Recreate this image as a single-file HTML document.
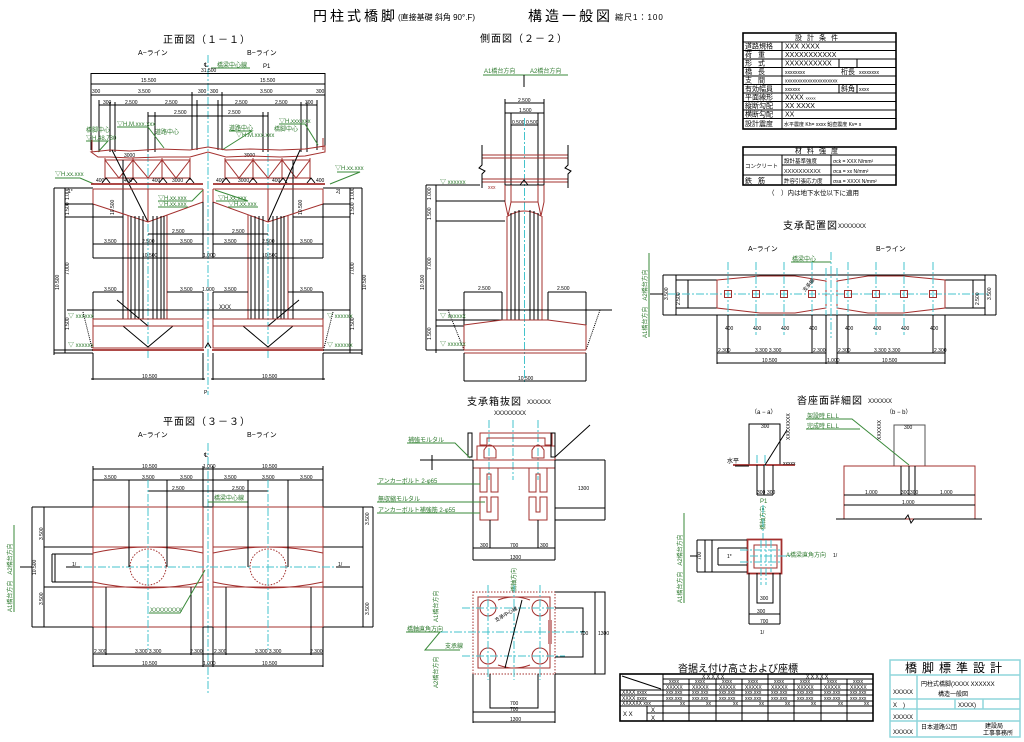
<!DOCTYPE html>
<html><head><meta charset="utf-8">
<style>
html,body{margin:0;padding:0;background:#fff;}
svg{display:block}
text{font-family:"Liberation Sans","Noto Sans CJK JP",sans-serif;}
.k{stroke:#000;stroke-width:1;fill:none}
.k2{stroke:#000;stroke-width:1.6;fill:none}
.gy{stroke:#555;stroke-width:1;fill:none}
.r{stroke:#a3302e;stroke-width:1;fill:none}
.r2{stroke:#a3302e;stroke-width:1.8;fill:none}
.rd{stroke:#a3302e;stroke-width:1;fill:none;stroke-dasharray:1.5 1.5}
.c{stroke:#45c3cc;stroke-width:1;fill:none;stroke-dasharray:8 2 2 2}
.gl{stroke:#3a8a3a;stroke-width:1;fill:none}
.cy{stroke:#8fd6dc;stroke-width:1.5;fill:none}
.d{font-size:5px;fill:#000}
.g{font-size:6px;fill:#2f7a2f}
.t{font-size:7px;fill:#000}
.vt{font-size:10px;fill:#000;letter-spacing:1px}
</style></head><body>
<svg width="1024" height="742" viewBox="0 0 1024 742" xmlns="http://www.w3.org/2000/svg">
<rect x="0" y="0" width="1024" height="742" fill="#fff"/>

<!-- ===== MAIN TITLE ===== -->
<text x="313" y="21" font-size="14" letter-spacing="3">円柱式橋脚</text>
<text x="398" y="20" font-size="8">(直接基礎 斜角 90°.F)</text>
<text x="528" y="21" font-size="14" letter-spacing="3">構造一般図</text>
<text x="615" y="20" font-size="8" letter-spacing="1">縮尺1：100</text>

<!-- ===== FRONT VIEW ===== -->
<text x="163" y="43" class="vt">正面図（１－１）</text>
<text x="138" y="55" font-size="7">A−ライン</text>
<text x="247" y="55" font-size="7">B−ライン</text>
<path class="c" d="M208 55V395 M148 112V358 M268 112V358"/>
<text x="204" y="67" font-size="6">℄</text>
<text x="217" y="67" class="g">橋梁中心線</text>
<path class="gl" d="M211 68H250"/>
<text x="263" y="68" font-size="6">P1</text>
<text x="201" y="72" class="d">31.500</text>
<!-- top dims -->
<path class="k" d="M91 73.5H325 M91 84H325 M91 95H325 M99 105H317 M148 116H268"/>
<path class="k" d="M91 73V150 M325 73V148 M99 100V152 M317 100V150 M110 102V152 M115 102V152 M148 112V152 M155 112V152 M192 92V150 M197 100V150 M218 100V150 M222 92V150 M263 112V152 M268 112V152 M301 102V152 M307 102V152"/>
<text x="141" y="82" class="d">15.500</text><text x="260" y="82" class="d">15.500</text>
<text x="92" y="93" class="d">300</text><text x="138" y="93" class="d">3.500</text><text x="198" y="93" class="d">300</text><text x="210" y="93" class="d">300</text><text x="260" y="93" class="d">3.500</text><text x="316" y="93" class="d">300</text>
<text x="103" y="104" class="d">300</text><text x="125" y="104" class="d">2.500</text><text x="165" y="104" class="d">2.500</text><text x="235" y="104" class="d">2.500</text><text x="275" y="104" class="d">2.500</text><text x="305" y="104" class="d">300</text>
<text x="174" y="114" class="d">2.500</text><text x="228" y="114" class="d">2.500</text>
<!-- green labels front -->
<text x="117" y="126" class="g">▽H.M.xxx.xxx</text>
<text x="155" y="134" class="g">道路中心</text>
<text x="86" y="132" class="g">橋脚中心</text>
<text x="86" y="140" class="g">▽H.48.730</text>
<text x="229" y="130" class="g">道路中心</text>
<text x="236" y="137" class="g">▽H.M.xxx.xxx</text>
<text x="274" y="131" class="g">橋脚中心</text>
<text x="279" y="123" class="g">▽H.xxx.xxx</text>
<path class="gl" d="M86 141H108 L98 152 M117 127H148 L164 148 M229 131H252 L222 150 M279 124H305 L318 145 M55 178H80 L94 184 M337 172H360 L330 184"/>
<text x="55" y="176" class="g">▽H.xx.xxx</text>
<text x="335" y="170" class="g">▽H.xx.xxx</text>
<text x="124" y="157" class="d">3000</text><text x="244" y="157" class="d">3000</text>
<!-- bent cap -->
<path class="r" d="M92 140V152 M323 138V150"/>
<path class="r" d="M91 152 L110 150 L130 151 L160 149 L190 150 L208 147 L226 150 L250 149 L280 150 L305 149 L325 146 L325 152 L305 156 L280 157 L250 156 L226 157 L208 152 L190 157 L160 157 L130 158 L110 157 L98 157 Z"/>
<!-- trusses -->
<g class="r">
<path d="M105 158V180 M133 158V180 M162 158V180 M190 158V180 M105 160H190 M105 178H190 M105 160L119 178L133 160L148 178L162 160L176 178L190 160"/>
<path d="M225 158V180 M253 158V180 M282 158V180 M310 158V180 M225 160H310 M225 178H310 M225 160L239 178L253 160L268 178L282 160L296 178L310 160"/>
</g>
<path class="k" d="M112 150L148 222 M300 150L268 222 M123 160V319 M293 160V319"/>
<!-- bearings -->
<path class="k" d="M102 183L106 178L110 183 M129 183L133 178L137 183 M159 183L163 178L167 183 M186 183L190 178L194 183 M222 183L226 178L230 183 M249 183L253 178L257 183 M279 183L283 178L287 183 M307 183L311 178L315 183"/>
<path class="r2" d="M91 184H203 M213 184H325"/>
<text x="96" y="182" class="d">400</text><text x="124" y="182" class="d">400</text><text x="152" y="182" class="d">400</text><text x="172" y="182" class="d">3000</text>
<text x="216" y="182" class="d">400</text><text x="238" y="182" class="d">3000</text><text x="272" y="182" class="d">400</text><text x="316" y="182" class="d">400</text>
<!-- coping -->
<path class="r" d="M93 189H203 M93 189V204 L148 222 L203 202 V189 M148 189V222"/>
<path class="r" d="M213 189H323 M213 189V202 L268 222 L323 204 V189 M268 189V222"/>
<text x="158" y="200" class="g">▽H.xx.xxx</text><text x="158" y="206" class="g">▽H.xx.xxx</text>
<text x="218" y="200" class="g">▽H.xx.xxx</text><text x="228" y="206" class="g">▽H.xx.xxx</text>
<path class="gl" d="M158 201H192 L203 190 M158 207H188 M216 201H248 L215 190 M228 207H258"/>
<!-- columns -->
<path class="r" d="M128 215V319 M167 215V319 M248 215V319 M288 215V319"/>
<path class="k" d="M131 216V319 M135 216V319 M139 216V319 M143 216V319 M153 216V319 M157 216V319 M161 216V319 M164 216V319"/>
<path class="k" d="M251 216V319 M255 216V319 M259 216V319 M263 216V319 M273 216V319 M277 216V319 M281 216V319 M284 216V319"/>
<!-- mid dims -->
<path class="k" d="M148 234H268 M93 244H203 M213 244H323 M93 258H323 M93 204V258 M203 202V258 M213 202V258 M323 204V258"/>
<text x="172" y="233" class="d">2.500</text><text x="232" y="233" class="d">2.500</text>
<text x="104" y="243" class="d">3.500</text><text x="142" y="243" class="d">2.500</text><text x="180" y="243" class="d">3.500</text>
<text x="224" y="243" class="d">3.500</text><text x="262" y="243" class="d">2.500</text><text x="300" y="243" class="d">3.500</text>
<text x="142" y="257" class="d">10.500</text><text x="203" y="257" class="d">1.000</text><text x="262" y="257" class="d">10.500</text>
<!-- above footing boxes -->
<path class="k" d="M93 292H123 M167 292H203 M213 292H248 M288 292H323 M93 292V319 M203 292V319 M213 292V319 M323 292V319"/>
<text x="104" y="291" class="d">3.500</text><text x="180" y="291" class="d">3.500</text><text x="202" y="291" class="d">1.000</text><text x="224" y="291" class="d">3.500</text><text x="300" y="291" class="d">3.500</text>
<path class="k" d="M117 300L148 326 M299 300L268 326 M123 326L148 347 M173 326L148 347 M243 326L268 347 M293 326L268 347"/>
<!-- ground line -->
<path class="k" d="M67 310H350"/>
<text x="219" y="309" font-size="6">XXX</text>
<!-- footing -->
<rect class="r" x="93" y="319" width="110" height="29"/>
<rect class="r" x="213" y="319" width="110" height="29"/>
<path class="r" d="M93 326H203 M213 326H323"/>
<path class="r2" d="M92 350H204 M212 350H324"/>
<path class="k" d="M54 350H93 M323 350H362 M54 353H93 M323 353H362"/>
<path class="k" d="M205 348L208 343L211 348"/>
<!-- side boxes -->
<path class="k" d="M54 188V355 M65 188V353 M54 188H93 M65 204H93 M65 217H123 M350 188V353 M362 188V355 M323 188H362 M323 204H350 M293 217H350"/>
<text x="68" y="193" class="d">1*</text><text x="336" y="193" class="d">2]</text>
<text transform="translate(59,290) rotate(-90)" class="d">10.500</text>
<text transform="translate(69,275) rotate(-90)" class="d">7.000</text>
<text transform="translate(69,200) rotate(-90)" class="d">1.000</text>
<text transform="translate(69,215) rotate(-90)" class="d">1.500</text>
<text transform="translate(69,330) rotate(-90)" class="d">1.500</text>
<text transform="translate(354,275) rotate(-90)" class="d">7.000</text>
<text transform="translate(366,290) rotate(-90)" class="d">10.500</text>
<text transform="translate(354,200) rotate(-90)" class="d">1.000</text>
<text transform="translate(354,215) rotate(-90)" class="d">1.500</text>
<text transform="translate(354,330) rotate(-90)" class="d">1.500</text>
<text transform="translate(114,215) rotate(-90)" class="d">10.500</text>
<text transform="translate(302,215) rotate(-90)" class="d">10.500</text>
<text x="68" y="318" class="g">▽ xxxxxx</text><text x="68" y="347" class="g">▽ xxxxxx</text>
<text x="327" y="318" class="g">▽ xxxxxx</text><text x="327" y="347" class="g">▽ xxxxxx</text>
<path class="k" stroke-dasharray="1 1" d="M83 312L92 348 M333 312L324 348"/>
<!-- bottom dims -->
<path class="k" d="M93 353V380 M203 353V380 M213 353V380 M323 353V380 M91 379H205 M211 379H325"/>
<text x="142" y="378" class="d">10.500</text><text x="262" y="378" class="d">10.500</text>
<text x="204" y="394" font-size="5">P</text>

<!-- ===== SIDE VIEW ===== -->
<text x="480" y="42" class="vt">側面図（２－２）</text>
<text x="484" y="73" class="g">A1橋台方向</text><text x="530" y="73" class="g">A2橋台方向</text>
<path class="gl" d="M483 75H568"/>
<path class="k" d="M524 75V87"/>
<path class="k" d="M505 103H544 M505 113H544 M511 125H538 M505 99V185 M544 99V185 M511 113V185 M538 113V185"/>
<text x="518" y="102" class="d">2.500</text><text x="519" y="112" class="d">1.500</text><text x="512" y="124" class="d">0.500</text><text x="526" y="124" class="d">0.500</text>
<path class="c" d="M524.5 118V382"/>
<path class="r" d="M482 155H568 M482 158H568 M482 179H568 M482 182H568"/>
<path class="k" d="M482 145V165 L479 168 L485 171 L482 174 V188 M568 145V165 L565 168 L571 171 L568 174 V188"/>
<path class="k" d="M520 185L524 180L528 185"/>
<text x="488" y="189" font-size="5" fill="#a3302e">xxx</text>
<text x="440" y="184" class="g">▽ xxxxxx</text>
<path class="k" d="M426 185H480 M505 185H544"/>
<path class="r" d="M505 185V202 L508 216 Q524.5 206 541 216 L544 202 V185 M511 185V202 H538 V185 M511 202L508 216 M538 202L541 216"/>
<path class="r" d="M507 216V320 M542 216V320"/>
<path class="k" d="M511 213V320 M515 211V320 M519 210V320 M530 210V320 M534 211V320 M538 213V320"/>
<path class="k" d="M426 185V350 M436 185V353 M436 201H505 M436 221H505 M436 320H505 M436 326H464 M426 350H464"/>
<text transform="translate(431,200) rotate(-90)" class="d">1.000</text>
<text transform="translate(431,220) rotate(-90)" class="d">1.500</text>
<text transform="translate(431,270) rotate(-90)" class="d">7.000</text>
<text transform="translate(424,290) rotate(-90)" class="d">10.500</text>
<text transform="translate(431,340) rotate(-90)" class="d">1.500</text>
<!-- side footing -->
<path class="k" d="M464 292H502 M548 292H586 M464 292V325 M586 292V325 M502 292V320 M548 292V320"/>
<text x="478" y="290" class="d">2.500</text><text x="557" y="290" class="d">2.500</text>
<path class="k" d="M438 310H612"/>
<path class="k" stroke-dasharray="1 1" d="M448 310L464 350 M600 310L586 350"/>
<path class="r" d="M464 325L502 320H548L586 325 M464 325V350 M586 325V350 M464 350H586 M464 353H586"/>
<text x="440" y="318" class="g">▽ xxxxxx</text><text x="440" y="346" class="g">▽ xxxxxx</text>
<path class="k" d="M464 353V381 M586 353V381 M464 381H586"/>
<text x="518" y="380" class="d">10.500</text>

<!-- ===== DESIGN CONDITIONS TABLE ===== -->
<g>
<rect class="k2" x="743" y="33" width="153" height="96"/>
<path class="k" d="M743 42H896 M743 50.5H896 M743 59H896 M743 67.5H896 M743 76H896 M743 84.5H896 M743 93H896 M743 101.5H896 M743 110H896 M743 118.5H896 M782 42V129 M839 59V67.5 M857 59V67.5 M839 84.5V93 M857 84.5V93"/>
<text x="795" y="40" class="t" letter-spacing="5">設計条件</text>
<g class="t" font-size="6.5">
<text x="745" y="48.5">道路規格</text><text x="785" y="48.5">XXX XXXX</text>
<text x="745" y="57" letter-spacing="6">荷重</text><text x="785" y="57">XXXXXXXXXXX</text>
<text x="745" y="65.5" letter-spacing="6">形式</text><text x="785" y="65.5">XXXXXXXXXX</text>
<text x="745" y="74" letter-spacing="6">橋長</text><text x="785" y="74" font-size="5">xxxxxxxx</text><text x="841" y="74">桁長</text><text x="859" y="74" font-size="5">xxxxxxxx</text>
<text x="745" y="82.5" letter-spacing="6">支間</text><text x="785" y="82.5" font-size="5">xxxxxxxxxxxxxxxxxxxxx</text>
<text x="745" y="91">有効幅員</text><text x="785" y="91" font-size="5">xxxxxx</text><text x="841" y="91">斜角</text><text x="859" y="91" font-size="5">xxxx</text>
<text x="745" y="99.5">平面線形</text><text x="785" y="99.5">XXXX <tspan font-size="4">xxxxx</tspan></text>
<text x="745" y="108">縦断勾配</text><text x="785" y="108">XX XXXX</text>
<text x="745" y="116.5">横断勾配</text><text x="785" y="116.5">XX</text>
<text x="745" y="126">設計震度</text><text x="784" y="126" font-size="5">水平震度 Kh= xxxx  鉛直震度 Kv= x</text>
</g>
</g>
<!-- ===== MATERIAL TABLE ===== -->
<g>
<rect class="k2" x="743" y="147" width="153" height="38"/>
<path class="k" d="M743 155H896 M782 165H896 M743 175H896 M782 155V185 M831 155V185"/>
<text x="795" y="153" class="t" letter-spacing="5">材料強度</text>
<g class="t" font-size="6">
<text x="745" y="168" font-size="5.5">コンクリート</text>
<text x="784" y="163" font-size="5.5">設計基準強度</text><text x="833" y="163" font-size="5">σck = XXX  N/mm²</text>
<text x="784" y="173" font-size="5.5">XXXXXXXXXX</text><text x="833" y="173" font-size="5">σca =  xx  N/mm²</text>
<text x="745" y="183" letter-spacing="6">鉄筋</text>
<text x="784" y="183" font-size="5.5">許容引張応力度</text><text x="833" y="183" font-size="5">σsa = XXXX  N/mm²</text>
</g>
<text x="768" y="195" font-size="6.5">（　）内は地下水位以下に適用</text>
</g>

<!-- ===== BEARING LAYOUT ===== -->
<text x="783" y="229" class="vt">支承配置図</text><text x="838" y="228" font-size="6">XXXXXXX</text>
<text x="748" y="251" font-size="7">A−ライン</text><text x="876" y="251" font-size="7">B−ライン</text>
<text x="792" y="261" class="g">橋梁中心</text><path class="gl" d="M791 262H831"/>
<path class="k" d="M663 275H996 M663 315H996 M663 275V315 M996 275V315 M676 280H717 M676 308H717 M945 280H985 M945 308H985 M676 275V315 M688 280V308 M973 280V308 M985 275V315"/>
<path class="r" d="M717 280 L760 276 L795 276 L826 281 V308 L795 313 L760 313 L717 308 Z"/>
<path class="r" d="M837 281 L868 276 L903 276 L945 280 V308 L903 313 L868 313 L837 308 Z"/>
<path class="c" d="M668 294H990 M728 262V335 M756 262V335 M784 262V335 M812 262V335 M848 262V335 M876 262V335 M904 262V335 M933 262V335 M831 252V338"/>
<path class="c" d="M826 268V335 M837 268V335"/>
<g class="r">
<rect x="724.5" y="290.5" width="7" height="7"/><rect x="752.5" y="290.5" width="7" height="7"/><rect x="780.5" y="290.5" width="7" height="7"/><rect x="808.5" y="290.5" width="7" height="7"/>
<rect x="844.5" y="290.5" width="7" height="7"/><rect x="872.5" y="290.5" width="7" height="7"/><rect x="900.5" y="290.5" width="7" height="7"/><rect x="929.5" y="290.5" width="7" height="7"/>
</g>
<text transform="translate(805,292) rotate(-50)" font-size="5">支承線</text>
<text transform="translate(680,305) rotate(-90)" class="d">2.500</text><text transform="translate(668,300) rotate(-90)" class="d">3.500</text>
<text transform="translate(979,305) rotate(-90)" class="d">2.500</text><text transform="translate(991,300) rotate(-90)" class="d">3.500</text>
<path class="k" d="M728 315V353 M812 315V353 M848 315V353 M933 315V353 M717 315V364 M826 315V364 M837 315V364 M945 315V364 M717 353H826 M837 353H945 M717 363H945"/>
<g class="d"><text x="725" y="330">400</text><text x="753" y="330">400</text><text x="781" y="330">400</text><text x="809" y="330">400</text><text x="845" y="330">400</text><text x="873" y="330">400</text><text x="901" y="330">400</text><text x="930" y="330">400</text>
<text x="718" y="352">2.300</text><text x="755" y="352">3.300 3.300</text><text x="813" y="352">2.300</text><text x="838" y="352">2.300</text><text x="874" y="352">3.300 3.300</text><text x="934" y="352">2.300</text>
<text x="762" y="362">10.500</text><text x="827" y="362">1.000</text><text x="882" y="362">10.500</text></g>
<text transform="translate(647,338) rotate(-90)" class="g">A1橋台方向　A2橋台方向</text>
<path class="gl" d="M649 253V337"/><path class="k" d="M650 294H663"/>

<!-- ===== PLAN VIEW ===== -->
<text x="163" y="425" class="vt">平面図（３－３）</text>
<text x="138" y="437" font-size="7">A−ライン</text><text x="247" y="437" font-size="7">B−ライン</text>
<path class="c" d="M208 443V695"/>
<text x="204" y="457" font-size="6">℄</text>
<path class="k" d="M93 469H323 M93 480H323 M148 491H268 M93 466V507 M203 466V507 M213 466V507 M323 466V507"/>
<text x="142" y="468" class="d">10.500</text><text x="203" y="468" class="d">1.000</text><text x="262" y="468" class="d">10.500</text>
<text x="104" y="479" class="d">3.500</text><text x="142" y="479" class="d">3.500</text><text x="180" y="479" class="d">3.500</text><text x="224" y="479" class="d">3.500</text><text x="262" y="479" class="d">3.500</text><text x="300" y="479" class="d">3.500</text>
<text x="172" y="490" class="d">2.500</text><text x="232" y="490" class="d">2.500</text>
<text x="214" y="500" class="g">橋梁中心線</text><path class="gl" d="M208 502H248"/>
<path class="k" d="M32 507H373 M32 627H373 M32 507V627 M44 507V627 M363 507V627 M373 507V627"/>
<path class="k" d="M44 547H93 M44 587H93 M323 547H363 M323 587H363 M52 554H93 M52 582H93 M52 554V582 M55 554V582"/>
<rect class="r" x="93" y="507" width="110" height="120"/>
<rect class="r" x="213" y="507" width="110" height="120"/>
<path class="r" d="M93 547H203 M93 587H203 M213 547H323 M213 587H323"/>
<path class="r" d="M93 553 Q148 541 203 553 M93 582 Q148 594 203 582 M213 553 Q268 541 323 553 M213 582 Q268 594 323 582"/>
<circle class="rd" cx="148" cy="567" r="18"/><circle class="rd" cx="268" cy="567" r="18"/>
<path class="c" d="M70 567H345 M148 480V650 M268 480V650"/>
<path class="k" d="M129 480V567 M167 480V567 M248 480V567 M288 480V567 M106 587V655 M191 587V655 M226 587V655 M311 587V655"/>
<path class="k" d="M93 627V667 M203 627V667 M213 627V667 M323 627V667 M93 654H323 M93 666H323 M66 567H80 M336 567H350"/>
<text x="72" y="566" class="d">1/</text><text x="338" y="566" class="d">1/</text>
<text x="94" y="653" class="d">2.300</text><text x="135" y="653" class="d">3.300 3.300</text><text x="190" y="653" class="d">2.300</text>
<text x="214" y="653" class="d">2.300</text><text x="255" y="653" class="d">3.300 3.300</text><text x="310" y="653" class="d">2.300</text>
<text x="142" y="665" class="d">10.500</text><text x="203" y="665" class="d">1.000</text><text x="262" y="665" class="d">10.500</text>
<text x="150" y="612" class="g">XXXXXXXX</text><path class="gl" d="M149 613H180 L205 570"/>
<text transform="translate(43,540) rotate(-90)" class="d">3.500</text>
<text transform="translate(43,605) rotate(-90)" class="d">3.500</text>
<text transform="translate(36,575) rotate(-90)" class="d">10.500</text>
<text transform="translate(369,525) rotate(-90)" class="d">3.500</text>
<text transform="translate(369,615) rotate(-90)" class="d">3.500</text>
<text transform="translate(12,612) rotate(-90)" class="g">A1橋台方向　A2橋台方向</text>
<path class="gl" d="M14 525V612"/><path class="k" d="M20 567H32"/>

<!-- ===== BEARING BOX-OUT ===== -->
<text x="467" y="405" class="vt">支承箱抜図</text><text x="527" y="404" font-size="6">XXXXXX</text>
<text x="494" y="415" font-size="6">XXXXXXXX</text>
<path class="c" d="M489 420V480 M513 420V480 M538 420V480"/>
<path class="r" d="M480 433H552 V445 H545 V438 H487 V445 H480 Z"/>
<path class="r" d="M484 450 Q490 440 496 450 V458 H484 Z M532 450 Q538 440 544 450 V458 H532 Z"/>
<path class="r" d="M477 446H555 V460 H477 Z"/>
<path class="k" d="M468 433V457 H472 V433 Z M551 433V457 H555 V433 Z M555 457L590 425"/>
<path class="k" d="M420 460H605 M432 455V470 M605 460V520 M555 508H605 M555 520H605"/>
<path class="r" d="M473 460H555 V468 H473 Z"/>
<path class="r" d="M480 468V492 H487 V474 H491 V492 H498 V468 M529 468V492 H536 V474 H540 V492 H547 V468"/>
<path class="r" d="M480 520V497 H487 V512 H491 V497 H498 V520 Z M529 520V497 H536 V512 H540 V497 H547 V520 Z"/>
<path class="k" d="M473 460V560 M555 460V560 M490 520V548 M538 520V548 M473 548H555 M473 560H555"/>
<text x="480" y="547" class="d">300</text><text x="510" y="547" class="d">700</text><text x="540" y="547" class="d">300</text><text x="510" y="559" class="d">1300</text>
<text x="578" y="490" class="d">1300</text>
<text x="408" y="442" class="g">補強モルタル</text><path class="gl" d="M407 443H455 L470 458"/>
<text x="378" y="483" class="g">アンカーボルト 2-φ65</text><path class="gl" d="M377 484H480"/>
<text x="378" y="501" class="g">無収縮モルタル</text><path class="gl" d="M377 502H485"/>
<text x="378" y="512" class="g">アンカーボルト補強筋 2-φ55</text><path class="gl" d="M377 513H480"/>
<text transform="translate(516,592) rotate(-90)" class="g">橋軸方向</text>
<!-- plan of box -->
<rect class="rd" x="473" y="592" width="82" height="82"/>
<path class="r" d="M478 597H550V668H478Z"/>
<path class="r" d="M498 600 Q514 594 530 600 M498 665 Q514 671 530 665"/>
<rect x="548" y="620" width="4" height="24" fill="#c88"/>
<circle class="r" cx="488" cy="608" r="8"/><circle class="r" cx="540" cy="608" r="8"/>
<circle class="r" cx="488" cy="656" r="8"/><circle class="r" cx="540" cy="656" r="8"/>
<path class="c" d="M462 608H565 M440 632H585 M462 656H565 M488 585V680 M514 585V680 M540 585V680"/>
<path class="k" d="M522 600L505 668"/>
<text transform="translate(496,622) rotate(-30)" font-size="5">支承中心線</text>
<path class="k" d="M555 592H605 V674 H555 M555 608H583 V657 H555 M595 592V674"/>
<text x="580" y="635" class="d">700</text><text x="598" y="635" class="d">1300</text>
<path class="k" d="M473 674V723 M555 674V723 M490 674V708 H538 V674 M473 712H555 M473 722H555"/>
<text x="510" y="705" class="d">700</text><text x="510" y="711" class="d">700</text><text x="510" y="721" class="d">1300</text>
<text transform="translate(438,622) rotate(-90)" class="g">A1橋台方向</text>
<text transform="translate(438,688) rotate(-90)" class="g">A2橋台方向</text>
<text x="407" y="631" class="g">橋軸直角方向</text><path class="gl" d="M406 632H440 L425 650 H460"/>
<text x="445" y="648" class="g">支承線</text>

<!-- ===== SEAT DETAIL ===== -->
<text x="797" y="404" class="vt">沓座面詳細図</text><text x="868" y="403" font-size="6">XXXXXX</text>
<text x="751" y="414" font-size="6">（a − a）</text><text x="886" y="414" font-size="6">（b − b）</text>
<path class="k" d="M749 424H780V465H749Z"/>
<text x="761" y="428" class="d">300</text>
<path class="r2" d="M733 465H795"/>
<text x="727" y="463" font-size="6">水平</text>
<path class="k" d="M735 466H749"/>
<path class="c" d="M757 455V466 M765 455V466"/>
<path class="k" d="M765 465L787 430 M757 465V495 M764 465V495 M773 465V495 M757 495H773"/>
<text x="757" y="494" class="d">300</text><text x="767" y="494" class="d">300</text>
<text x="783" y="465" font-size="5">xxxxx</text>
<text transform="translate(790,440) rotate(-90)" font-size="5">XXXXXXXX</text>
<text x="760" y="503" class="g">P1</text>
<text transform="translate(765,530) rotate(-90)" class="g">橋軸方向</text>
<path class="c" d="M763 505V540"/>
<!-- b-b -->
<path class="gy" d="M894 425H925V466H894Z" stroke-width="1.5"/>
<text x="904" y="429" class="d">300</text>
<path class="r" d="M844 466H975V519H844Z"/>
<path class="k" d="M901 466V495 M909 466V495 M915 466V495 M844 495H975 M844 505H975 M836 519H905 L908 515 L911 523 L914 519 H982"/>
<text x="865" y="494" class="d">1.000</text><text x="901" y="494" class="d">300</text><text x="910" y="494" class="d">300</text><text x="940" y="494" class="d">1.000</text>
<text x="902" y="504" class="d">1.000</text>
<text x="807" y="418" class="g">架設時 EL.L</text><text x="807" y="428" class="g">完成時 EL.L</text>
<path class="gl" d="M806 419H852 L909 465 M806 429H860"/>
<text transform="translate(881,440) rotate(-90)" font-size="5">XXXXXX</text>
<!-- seat plan -->
<rect class="r2" x="747.5" y="539.5" width="34" height="34"/>
<rect class="r" x="754" y="545" width="23" height="23"/>
<path class="c" d="M761 540V585 M766 540V585 M771 540V572 M740 550H782 M750 556H790 M740 562H782"/>
<text x="786" y="557" class="g">A橋梁直角方向</text><text x="833" y="557" class="d">1/</text>
<path class="k" d="M697 540H747 M697 572H747 M697 540V572 M705 540V572 M712 540V572 M718 548H747 M718 565H747 M718 548V565"/>
<text x="727" y="558" class="d">1*</text>
<text transform="translate(701,560) rotate(-90)" class="d">700</text>
<path class="k" d="M749 573V624 M780 573V624 M757 573V603 H773 V573 M749 614H780 M749 624H780"/>
<text x="760" y="600" class="d">300</text><text x="757" y="613" class="d">300</text><text x="760" y="623" class="d">700</text>
<text x="760" y="634" class="d">1/</text>
<text transform="translate(682,603) rotate(-90)" class="g">A1橋台方向　A2橋台方向</text>
<path class="gl" d="M684 513V603"/><path class="k" d="M690 556H697"/>

<!-- ===== BEARING HEIGHT TABLE ===== -->
<text x="678" y="672" font-size="10">沓据え付け高さおよび座標</text>
<g>
<rect class="k2" x="620" y="674" width="253" height="47"/>
<path class="k" d="M663 679H873 M663 684H873 M620 690H873 M620 695H873 M620 701H873 M620 706H873 M647 713H873 M663 674V721 M768 674V721 M647 706V721"/>
<path class="k" d="M689 679V721 M716 679V721 M742 679V721 M794 679V721 M821 679V721 M847 679V721"/>
<path class="k" d="M622 676L661 689"/>
<g class="d">
<text x="702" y="678.5">X X X X X</text><text x="806" y="678.5">X X X X X</text>
<text x="669" y="683">xxxx</text><text x="695" y="683">xxxx</text><text x="722" y="683">xxxx</text><text x="748" y="683">xxxx</text><text x="774" y="683">xxxx</text><text x="800" y="683">xxxx</text><text x="827" y="683">xxxx</text><text x="853" y="683">xxxx</text>
<text x="666" y="689">XXXXX</text><text x="692" y="689">XXXXX</text><text x="719" y="689">XXXXX</text><text x="745" y="689">XXXXX</text><text x="771" y="689">XXXXX</text><text x="797" y="689">XXXXX</text><text x="824" y="689">XXXXX</text><text x="850" y="689">XXXXX</text>
<text x="622" y="694">XXXX xxxx</text><text x="622" y="700">XXXX xxxx</text><text x="622" y="705">XXXXXX xxx</text>
<text x="666" y="694">xxx.xxx</text><text x="692" y="694">xxx.xxx</text><text x="719" y="694">xxx.xxx</text><text x="745" y="694">xxx.xxx</text><text x="771" y="694">xxx.xxx</text><text x="797" y="694">xxx.xxx</text><text x="824" y="694">xxx.xxx</text><text x="850" y="694">xxx.xxx</text>
<text x="666" y="700">xxx.xxx</text><text x="692" y="700">xxx.xxx</text><text x="719" y="700">xxx.xxx</text><text x="745" y="700">xxx.xxx</text><text x="771" y="700">xxx.xxx</text><text x="797" y="700">xxx.xxx</text><text x="824" y="700">xxx.xxx</text><text x="850" y="700">xxx.xxx</text>
<text x="680" y="705">xx</text><text x="706" y="705">xx</text><text x="733" y="705">xx</text><text x="759" y="705">xx</text><text x="785" y="705">xx</text><text x="811" y="705">xx</text><text x="838" y="705">xx</text><text x="864" y="705">xx</text>
</g>
<text x="623" y="716" font-size="6">X  X</text><text x="651" y="712" font-size="6">X</text><text x="651" y="720" font-size="6">X</text>
</g>

<!-- ===== TITLE BLOCK ===== -->
<g>
<rect class="cy" x="890" y="660" width="130" height="77"/>
<path class="cy" d="M890 675H1020 M890 699H1020 M890 709H1020 M890 721H1020 M917 675V737 M955 699V709 M983 699V709"/>
<text x="905" y="672" font-size="12" letter-spacing="5">橋脚標準設計</text>
<text x="921" y="686" font-size="6">円柱式橋脚(XXXX  XXXXXX</text>
<text x="938" y="696" font-size="6">構造一般図</text>
<text x="893" y="694" font-size="6">XXXXX</text>
<text x="893" y="707" font-size="6">X　)</text>
<text x="958" y="707" font-size="6">XXXX)</text>
<text x="893" y="719" font-size="6">XXXXX</text>
<text x="921" y="729" font-size="6">日本道路公団</text>
<text x="985" y="728" font-size="6">建設局</text>
<text x="983" y="735" font-size="6">工事事務所</text>
<text x="893" y="734" font-size="6">XXXXX</text>
</g>
</svg>
</body></html>
